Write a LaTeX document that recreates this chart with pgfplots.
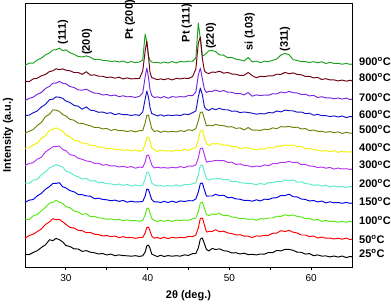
\documentclass[border=0pt]{standalone}
\usepackage{pgfplots}
\usepackage{pgfplotstable}
\pgfplotsset{compat=1.18}
\usepackage{fontspec}
\setmainfont{Liberation Sans}
\definecolor{c25}{RGB}{0,0,0}
\definecolor{c50}{RGB}{255,0,0}
\definecolor{c100}{RGB}{90,230,20}
\definecolor{c150}{RGB}{0,0,230}
\definecolor{c200}{RGB}{90,235,200}
\definecolor{c300}{RGB}{180,50,240}
\definecolor{c400}{RGB}{240,240,0}
\definecolor{c500}{RGB}{110,130,10}
\definecolor{c600}{RGB}{20,20,200}
\definecolor{c700}{RGB}{120,40,220}
\definecolor{c800}{RGB}{110,0,20}
\definecolor{c900}{RGB}{30,160,30}
\pgfplotstableread{
x a b c d e f g h i j k l
25.0 2.6 0.8 2.8 0.6 4.0 3.5 3.7 -0.2 1.6 -1.7 -0.2 -1.4
25.5 2.4 3.4 2.5 2.8 3.8 5.5 4.0 1.7 1.8 0.6 -0.7 0.8
26.0 4.5 4.8 6.1 3.5 6.8 6.4 7.0 3.5 4.2 1.8 2.1 0.8
26.5 6.3 7.4 7.6 7.1 7.8 9.8 8.8 7.5 6.0 4.7 2.8 4.1
27.0 9.5 10.0 11.2 9.6 12.1 11.8 13.6 10.6 10.0 6.5 5.2 5.8
27.5 12.1 14.5 14.5 13.7 15.3 17.1 16.3 16.3 12.6 10.5 6.5 9.2
28.0 17.3 17.1 19.0 16.5 19.2 19.8 21.6 18.8 17.3 12.6 9.5 11.0
28.4 16.3 20.3 19.6 19.5 20.5 22.2 22.8 23.1 17.8 15.8 10.1 14.0
28.8 18.6 19.3 21.8 19.6 22.5 22.5 24.2 22.8 20.1 15.8 12.3 14.1
29.2 17.3 19.6 19.8 20.3 21.1 23.0 22.5 21.7 19.8 17.6 11.3 15.8
29.6 15.2 17.3 18.6 16.3 20.3 19.6 21.0 18.5 18.7 15.8 12.1 13.3
30.0 11.5 14.7 15.3 15.1 15.8 18.3 17.1 17.0 16.0 15.2 10.8 14.1
30.5 10.5 11.5 14.2 12.3 14.6 14.3 15.3 13.6 14.5 12.5 10.2 11.3
31.0 8.1 11.0 11.0 11.2 11.8 13.6 11.8 12.8 11.6 11.5 8.5 9.7
31.5 8.0 8.6 10.0 8.5 10.2 10.8 11.1 9.8 10.8 9.1 8.5 7.5
32.0 5.6 8.3 7.6 8.3 8.0 9.7 8.8 9.6 7.8 8.8 6.6 7.0
32.5 6.4 6.3 8.3 7.1 8.5 8.0 8.7 8.3 10.1 9.8 9.3 8.1
33.0 4.8 6.6 5.3 6.8 6.1 7.5 6.5 7.2 6.8 7.6 5.8 6.8
33.5 4.2 4.8 5.6 4.3 6.3 5.6 6.5 5.5 6.2 5.8 6.1 4.3
34.0 3.0 4.4 4.3 4.8 4.1 5.8 4.8 5.5 4.7 5.7 4.8 4.8
34.5 3.5 3.0 3.7 3.6 4.6 3.8 5.0 4.1 5.0 4.0 4.7 3.6
35.0 2.0 3.5 2.7 3.2 3.3 4.4 2.9 4.6 3.6 4.5 3.5 3.4
35.5 3.0 2.4 3.1 2.3 3.2 3.0 3.8 2.5 4.3 3.2 4.0 2.5
36.0 1.3 3.0 2.1 2.9 2.1 3.2 2.6 3.6 2.3 4.0 2.8 3.0
36.5 2.1 1.3 2.8 1.6 3.0 2.0 2.6 2.3 3.4 2.3 3.8 2.0
37.0 1.4 2.4 1.1 2.6 1.6 2.7 1.5 2.4 2.3 3.2 2.1 3.0
37.5 1.2 1.3 2.2 0.8 2.6 1.6 2.3 1.5 2.4 2.2 3.1 1.3
38.0 0.8 1.5 1.3 1.8 0.9 2.5 1.1 2.3 1.5 2.4 2.1 2.4
38.5 1.3 0.7 1.4 1.0 2.0 0.8 2.2 1.2 2.3 1.5 2.4 1.4
39.0 0.6 1.5 0.7 1.2 1.1 2.0 0.6 2.3 1.6 2.7 2.5 2.0
39.4 1.2 1.5 1.6 1.5 1.8 1.6 1.8 2.5 5.0 6.0 10.0 4.0
39.7 5.0 6.0 7.0 7.0 8.0 7.0 8.0 10.0 18.0 22.0 30.0 30.0
39.9 11.0 11.5 13.5 14.0 14.5 13.5 14.5 17.5 26.0 31.0 40.0 22.0
40.1 12.0 12.0 14.0 13.5 15.0 14.0 15.0 18.0 20.0 22.0 25.0 8.0
40.3 8.5 8.0 9.0 8.5 10.0 9.5 10.0 11.0 9.0 9.0 8.0 3.5
40.5 3.0 3.0 3.5 3.5 4.0 4.0 4.0 4.5 3.5 3.5 3.5 2.0
40.8 1.7 0.8 1.7 1.1 2.2 1.1 2.4 1.6 2.5 1.5 2.4 1.4
41.2 0.4 1.5 0.5 1.2 1.0 1.8 0.5 2.3 1.1 2.1 1.3 1.7
41.6 1.8 0.4 1.7 0.4 1.3 1.1 1.7 0.6 2.3 1.1 2.1 0.8
42.0 0.5 1.9 0.6 1.7 0.8 1.4 1.1 2.0 0.9 2.5 1.3 2.0
42.5 1.4 0.3 1.9 0.5 1.5 0.9 1.2 1.0 2.0 0.8 2.4 1.0
43.0 0.8 1.8 0.5 1.8 0.8 1.7 0.7 1.7 1.4 2.4 1.1 2.4
43.5 1.3 1.0 2.0 0.6 2.2 1.1 1.8 1.1 2.0 1.8 2.6 1.0
44.0 0.8 1.7 1.3 2.1 0.9 2.4 1.2 2.3 1.5 2.4 2.1 2.6
44.5 2.1 1.2 2.0 1.5 2.5 1.3 2.7 1.6 2.9 2.0 2.8 2.0
45.0 1.6 2.6 1.7 2.3 2.2 3.0 1.6 3.3 2.4 3.5 2.5 2.8
45.5 3.4 2.4 3.3 2.2 3.2 2.8 3.6 2.5 4.3 3.4 4.5 2.7
45.9 3.5 4.0 4.0 4.0 4.2 4.2 4.2 4.5 6.0 7.0 12.0 6.0
46.2 9.0 11.0 10.5 11.0 12.0 11.0 12.0 12.0 20.0 24.0 38.0 41.0
46.45 18.0 20.5 19.0 19.5 21.5 20.5 21.0 20.5 29.0 31.0 44.0 25.0
46.7 19.0 21.0 20.0 20.0 22.0 21.0 22.0 21.0 22.0 20.0 22.0 8.0
46.95 13.0 14.0 13.5 13.0 14.5 14.0 14.0 14.0 10.0 9.5 10.0 9.0
47.2 7.5 7.0 7.4 6.8 8.4 6.8 8.3 7.1 7.5 6.5 8.2 10.8
47.5 6.1 7.5 6.5 7.0 7.0 7.6 6.3 7.8 6.6 7.7 7.5 13.2
47.9 8.6 7.6 8.0 7.0 8.2 7.8 8.4 7.1 8.6 7.6 9.0 13.5
48.3 7.5 9.3 7.6 8.7 8.0 8.7 8.1 8.6 7.3 9.0 8.6 12.5
48.8 8.1 7.3 8.6 7.4 8.7 8.3 8.2 7.6 8.6 7.5 9.8 9.1
49.3 6.3 7.8 6.3 7.8 7.1 8.5 6.7 7.4 7.3 8.4 7.8 8.8
49.8 5.8 6.1 6.6 5.3 7.6 6.6 7.0 6.0 7.2 6.8 8.6 6.3
50.3 4.0 5.4 5.0 5.6 5.3 6.8 5.1 6.3 5.7 6.7 7.0 6.6
50.8 4.3 4.0 4.7 4.1 5.8 4.5 5.6 4.6 6.0 5.3 6.7 4.8
51.3 3.0 4.3 3.3 3.8 4.3 5.1 3.3 5.1 4.4 5.5 5.5 4.2
51.8 3.8 2.8 3.7 2.5 4.0 3.6 4.1 3.1 5.0 4.1 5.7 3.0
52.3 2.4 2.8 2.6 2.6 3.3 3.2 4.0 5.5 4.5 6.5 8.5 6.5
52.8 2.6 1.5 3.0 1.8 3.3 2.1 3.0 2.8 3.8 2.8 5.3 2.1
53.3 2.1 3.1 1.8 3.2 2.2 3.0 2.1 3.0 2.8 4.1 3.3 3.0
53.8 3.0 2.8 3.4 2.1 3.6 2.4 3.3 2.5 3.4 3.4 4.8 1.3
54.3 2.9 3.7 3.0 3.8 2.5 4.1 2.8 3.8 3.0 4.0 4.3 2.8
54.8 4.5 3.7 4.0 3.6 4.4 3.3 4.6 3.4 4.5 3.8 5.2 2.4
55.3 4.4 5.7 4.0 5.0 4.3 5.4 3.8 5.1 4.1 5.3 5.1 3.7
55.8 6.6 5.9 5.8 5.3 5.5 5.4 5.9 4.3 6.0 5.1 6.8 5.0
56.3 6.1 8.3 5.6 7.5 5.5 6.5 5.8 6.4 5.1 7.0 6.6 9.0
56.8 7.6 7.5 7.3 7.4 7.0 6.5 7.0 6.0 6.9 6.1 8.6 10.6
57.3 7.6 8.6 6.1 8.8 6.4 7.7 6.5 6.7 6.3 7.6 7.3 9.3
57.8 6.7 6.8 7.1 6.3 7.1 6.4 7.0 5.5 6.2 6.3 8.1 4.3
58.3 4.8 6.0 5.6 6.1 4.8 6.8 5.4 5.8 4.8 6.0 6.6 3.6
58.8 4.7 4.0 5.0 4.0 5.1 4.3 5.6 4.1 5.0 4.5 6.2 2.3
59.3 2.9 4.0 3.3 3.5 3.4 4.6 3.1 4.4 3.4 4.7 4.5 2.4
59.8 3.4 2.4 3.5 2.0 3.0 3.0 3.6 2.3 3.8 3.1 4.7 1.5
60.3 1.3 3.0 1.9 2.5 1.7 2.7 2.2 3.0 1.8 3.6 3.1 2.3
60.8 2.1 1.0 2.6 1.1 2.2 1.5 2.0 1.7 2.6 1.5 3.6 1.2
61.3 0.9 1.9 0.6 1.9 0.9 2.0 0.9 1.7 1.4 2.3 1.5 2.2
61.8 1.1 0.8 1.6 0.1 1.8 0.8 1.5 0.7 1.4 1.1 2.3 0.5
62.3 0.1 0.9 0.5 1.2 0.0 1.6 0.3 1.4 0.4 1.2 1.1 1.6
62.8 1.0 0.0 0.7 0.2 1.1 -0.1 1.3 0.2 1.1 0.2 1.1 0.6
63.3 -0.1 0.8 -0.2 0.5 0.1 1.0 -0.4 1.2 0.0 1.0 0.1 0.7
63.8 1.0 -0.2 0.7 -0.3 0.4 0.0 0.8 -0.5 1.0 -0.1 0.9 -0.2
64.3 -0.6 0.9 -0.3 0.6 -0.4 0.3 -0.1 0.7 -0.6 0.9 -0.2 0.6
64.8 0.6 -0.7 0.8 -0.4 0.5 -0.5 0.2 -0.2 0.6 -0.7 0.8 -0.4
65.0 0.1 0.0 0.1 0.0 0.1 0.0 0.1 0.0 0.1 0.0 0.1 0.0
}\data
\begin{document}
\begin{tikzpicture}
\begin{axis}[
  scale only axis, width=327pt, height=264pt,
  xmin=25, xmax=65, ymin=0, ymax=264,
  xtick={30,40,50,60}, minor xtick={35,45,55},
  ytick=\empty,
  tick align=outside, major tick length=3.5pt, minor tick length=3.5pt,
  xtick pos=bottom,
  axis line style={line width=0.9pt},
  every tick/.style={black, line width=0.8pt},
  /pgf/number format/assume math mode=true,
  xticklabel style={font=\fontsize{10}{12}\selectfont},
  xlabel={\textbf{2θ (deg.)}},
  xlabel style={font=\fontsize{11}{13}\selectfont, at={(axis description cs:0.5,-0.11)}, anchor=center},
  ylabel={\textbf{Intensity (a.u.)}},
  ylabel style={font=\fontsize{11}{13}\selectfont, at={(axis description cs:-0.052,0.5)}, anchor=center},
  clip=false,
  every axis plot/.append style={line width=0.95pt, line join=round},
]
\addplot[c900] table[x=x, y expr=\thisrow{l}+203] {\data};
\addplot[c800] table[x=x, y expr=\thisrow{k}+186] {\data};
\addplot[c700] table[x=x, y expr=\thisrow{j}+168] {\data};
\addplot[c600] table[x=x, y expr=\thisrow{i}+150] {\data};
\addplot[c500] table[x=x, y expr=\thisrow{h}+134] {\data};
\addplot[c400] table[x=x, y expr=\thisrow{g}+115] {\data};
\addplot[c300] table[x=x, y expr=\thisrow{f}+98] {\data};
\addplot[c200] table[x=x, y expr=\thisrow{e}+80] {\data};
\addplot[c150] table[x=x, y expr=\thisrow{d}+64] {\data};
\addplot[c100] table[x=x, y expr=\thisrow{c}+45] {\data};
\addplot[c50] table[x=x, y expr=\thisrow{b}+28] {\data};
\addplot[c25] table[x=x, y expr=\thisrow{a}+10] {\data};
\begin{scope}[every node/.style={font=\fontsize{11}{13}\selectfont\bfseries, inner sep=0pt}]
\node[rotate=90] at (axis cs:29.65,235) {(111)};
\node[rotate=90] at (axis cs:32.6,225) {(200)};
\node[rotate=90] at (axis cs:37.85,247) {Pt (200)};
\node[rotate=90] at (axis cs:44.8,244) {Pt (111)};
\node[rotate=90] at (axis cs:47.75,231) {(220)};
\node[rotate=90] at (axis cs:52.5,235) {si (103)};
\node[rotate=90] at (axis cs:56.8,228) {(311)};
\end{scope}
\begin{scope}[every node/.style={font=\fontsize{11}{13}\selectfont\bfseries, anchor=west, inner sep=0pt, xshift=7pt}]
\node at (axis cs:65,206) {900\textsuperscript{o}C};
\node at (axis cs:65,190) {800\textsuperscript{o}C};
\node at (axis cs:65,170) {700\textsuperscript{o}C};
\node at (axis cs:65,153) {600\textsuperscript{o}C};
\node at (axis cs:65,138) {500\textsuperscript{o}C};
\node at (axis cs:65,120) {400\textsuperscript{o}C};
\node at (axis cs:65,102) {300\textsuperscript{o}C};
\node at (axis cs:65,84) {200\textsuperscript{o}C};
\node at (axis cs:65,66) {150\textsuperscript{o}C};
\node at (axis cs:65,47) {100\textsuperscript{o}C};
\node at (axis cs:65,28) {50\textsuperscript{o}C};
\node at (axis cs:65,14) {25\textsuperscript{o}C};
\end{scope}
\end{axis}
\pgfresetboundingbox
\path ([shift={(-25pt,-38pt)}]current axis.south west) rectangle ([shift={(39pt,3pt)}]current axis.north east);
\end{tikzpicture}
\end{document}
